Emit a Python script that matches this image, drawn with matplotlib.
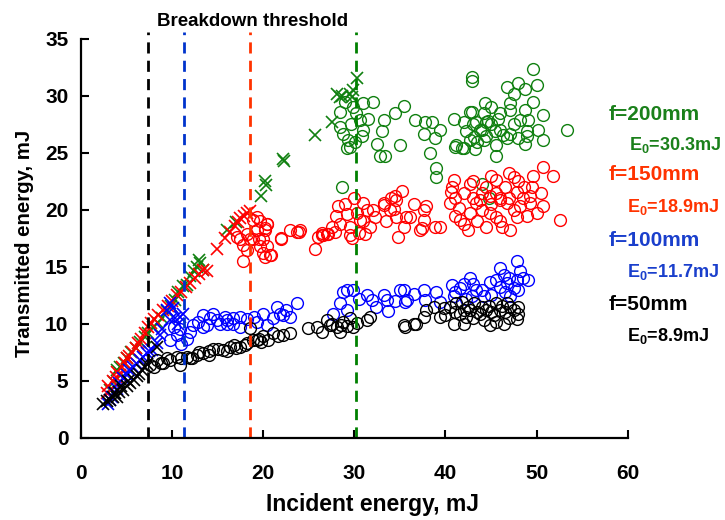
import matplotlib
matplotlib.use("Agg")
import matplotlib.pyplot as plt

plt.rcParams["font.family"] = ["Liberation Sans", "DejaVu Sans"]
plt.rcParams["font.weight"] = "bold"
plt.rcParams["mathtext.default"] = "regular"

# ── Data (incident mJ, transmitted mJ) ──────────────────────────────────
# f = 200 mm
G_CROSS_X = [3.2, 3.6, 3.9, 4.3, 4.7, 5.1, 5.5, 6.0, 6.5, 7.0, 7.4, 7.9, 8.4,
             8.9, 9.4, 9.9, 10.3, 10.7, 11.2, 11.6, 12.0, 12.4, 12.7, 12.9,
             13.1, 13.4, 16.0, 17.0, 19.8, 20.2, 20.3, 22.2, 22.3, 25.7, 27.5,
             28.1, 28.4, 28.6, 29.5, 29.9, 29.7, 30.3]
G_CROSS_Y = [4.2, 4.9, 5.9, 6.2, 6.6, 7.0, 7.5, 7.9, 8.4, 8.8, 9.2, 9.7, 10.1,
             10.5, 11.1, 11.6, 12.1, 12.8, 13.3, 13.4, 14.2, 14.6, 15.0, 15.6,
             15.3, 14.7, 18.2, 18.9, 21.2, 22.5, 22.2, 24.5, 24.3, 26.6, 27.7,
             30.2, 29.9, 30.0, 30.2, 30.5, 29.9, 31.6]
G_CIRC_X = [28.4, 28.4, 28.8, 29.3, 29.5, 29.2, 30.1, 31.0, 30.6, 32.1, 31.0,
            28.6, 32.5, 33.0, 33.2, 32.8, 33.4, 34.5, 35.4, 35.0, 36.7, 37.8,
            38.5, 37.6, 39.4, 38.9, 38.3, 39.0, 39.0, 40.9, 41.1, 42.0, 42.9,
            42.9, 42.9, 42.0, 43.1, 49.6, 46.7, 48.0, 50.0, 48.7, 47.5, 44.3,
            47.1, 49.6, 47.1, 48.7, 50.7, 42.7, 44.2, 45.8, 48.2, 49.1, 50.2,
            53.3, 43.4, 44.5, 42.3, 43.8, 45.4, 47.1, 48.9, 41.2, 42.7, 44.2,
            45.6, 46.7, 48.0, 48.7, 50.7, 43.2, 45.6, 41.8, 29.8, 30.2, 29.0,
            44.0, 44.8, 44.0, 45.0, 46.0, 44.5, 43.5, 46.0, 45.0, 47.5, 49.0,
            43.0, 44.7, 46.3, 30.8, 31.5, 29.6]
G_CIRC_Y = [28.6, 27.3, 26.7, 26.1, 25.5, 25.4, 26.0, 27.0, 27.9, 29.5, 29.4,
            22.0, 25.8, 26.9, 27.9, 24.7, 24.7, 28.5, 29.1, 25.7, 27.9, 27.7,
            27.7, 26.7, 27.0, 26.3, 25.0, 23.7, 22.9, 28.0, 25.5, 27.7, 28.6,
            31.7, 31.3, 25.4, 26.4, 32.4, 30.8, 31.1, 31.0, 30.6, 30.2, 29.4,
            29.4, 29.5, 28.8, 28.8, 28.3, 28.6, 28.5, 28.0, 27.9, 27.9, 27.0,
            27.0, 27.7, 27.7, 26.9, 27.0, 26.9, 26.7, 26.9, 25.7, 26.1, 26.1,
            25.7, 26.3, 26.3, 25.8, 26.1, 25.3, 24.7, 25.4, 29.0, 28.5, 29.5,
            22.3, 21.0, 27.0, 27.5, 27.0, 26.5, 26.0, 28.5, 29.0, 27.5, 26.5,
            27.5, 27.8, 26.6, 26.5, 28.0, 27.5]

# f = 150 mm
R_CROSS_X = [2.8, 3.0, 3.3, 3.5, 3.8, 4.0, 4.3, 4.5, 4.8, 5.0, 5.3, 5.6, 6.0,
             6.3, 6.6, 7.0, 7.3, 7.7, 8.0, 8.5, 9.0, 9.5, 10.0, 10.5, 11.0,
             11.5, 12.0, 12.5, 13.0, 13.4, 13.8, 14.9, 15.8, 16.4, 16.9, 17.2,
             17.5, 17.9, 18.2, 18.6]
R_CROSS_Y = [3.9, 4.5, 4.2, 5.0, 5.3, 5.8, 5.5, 6.2, 6.6, 7.0, 7.2, 7.5, 7.9,
             8.3, 8.7, 9.2, 9.7, 10.1, 10.4, 10.8, 11.2, 11.6, 12.0, 12.5, 12.8,
             13.2, 13.6, 14.0, 14.4, 14.7, 14.6, 16.6, 17.5, 18.1, 18.6, 18.9,
             19.3, 19.5, 19.7, 19.9]
R_CIRC_X = [17.8, 18.2, 17.5, 17.1, 18.6, 19.6, 20.4, 20.2, 19.3, 18.2, 18.9,
            20.0, 19.6, 20.4, 20.0, 20.9, 20.2, 17.8, 18.9, 22.0, 22.9, 23.7,
            24.0, 25.7, 26.0, 26.6, 27.0, 19.3, 20.4, 20.2, 19.5, 20.7, 22.0,
            23.9, 26.4, 27.1, 27.9, 28.4, 28.2, 29.2, 29.5, 29.7, 30.6, 31.2,
            31.7, 32.3, 31.4, 33.2, 33.9, 34.6, 34.8, 35.7, 37.6, 37.6, 37.4,
            34.6, 31.0, 30.3, 33.2, 34.5, 35.2, 34.3, 36.1, 37.2, 37.9, 38.9,
            40.5, 40.9, 40.7, 40.6, 39.4, 41.6, 42.5, 42.7, 42.7, 43.8, 44.5,
            44.9, 45.6, 46.0, 46.2, 47.1, 47.5, 47.8, 48.2, 49.3, 49.6, 50.0,
            50.7, 50.7, 51.8, 52.6, 46.7, 48.6, 49.3, 44.9, 43.4, 47.8, 45.6,
            41.0, 41.5, 42.0, 43.0, 43.5, 44.0, 45.0, 45.5, 46.5, 47.0, 47.5,
            48.0, 48.5, 49.0, 46.0, 44.5, 42.0, 43.0, 45.0, 49.5, 50.5, 47.0,
            46.0, 44.0, 41.0, 28.0, 29.0, 30.0, 31.0, 32.0, 29.5, 30.5, 27.5,
            26.5, 35.5, 36.5, 33.5, 34.0]
R_CIRC_Y = [15.5, 16.5, 17.4, 17.6, 17.4, 19.0, 18.8, 18.4, 18.2, 17.9, 17.4,
            17.4, 16.8, 16.8, 16.2, 16.0, 15.9, 16.9, 19.1, 17.5, 18.2, 18.1,
            18.2, 16.6, 17.6, 17.8, 17.9, 19.4, 18.8, 18.2, 17.4, 16.0, 17.4,
            18.1, 17.8, 17.9, 18.1, 18.8, 20.3, 19.6, 18.5, 17.5, 19.1, 17.9,
            18.5, 19.4, 20.0, 20.4, 20.0, 19.4, 17.6, 19.4, 20.0, 19.1, 18.4,
            20.9, 20.6, 19.7, 20.6, 21.2, 21.7, 20.1, 19.4, 18.2, 20.3, 18.5,
            20.6, 22.6, 22.0, 21.6, 18.5, 19.1, 18.2, 22.3, 19.7, 20.9, 22.0,
            19.7, 22.6, 20.9, 18.5, 18.2, 22.9, 21.6, 20.3, 21.2, 23.0, 19.7,
            23.8, 20.3, 23.0, 19.1, 20.6, 22.0, 20.6, 21.2, 20.6, 19.4, 19.4,
            21.0, 20.2, 21.5, 21.0, 19.0, 20.0, 20.5, 21.5, 22.0, 21.0, 20.0,
            22.5, 21.0, 19.5, 19.0, 18.5, 18.8, 22.5, 23.0, 22.0, 21.5, 23.2,
            21.0, 21.5, 19.5, 19.5, 20.5, 21.0, 19.0, 20.0, 17.8, 18.0, 18.5,
            18.0, 18.5, 20.5, 19.0, 21.0]

# f = 100 mm
B_CROSS_X = [3.0, 3.2, 3.4, 3.6, 3.9, 4.2, 4.6, 5.0, 5.3, 5.7, 6.1, 6.5, 6.8,
             7.2, 7.5, 7.8, 8.3, 8.7, 8.9, 9.4, 9.8, 9.8, 10.1, 10.3, 10.9,
             11.2, 10.6]
B_CROSS_Y = [3.0, 3.3, 3.6, 3.9, 4.3, 4.8, 5.2, 5.5, 5.9, 6.2, 6.5, 6.8, 7.1,
             7.4, 7.6, 7.7, 8.3, 9.0, 9.5, 11.2, 10.3, 11.8, 11.4, 10.5, 10.6,
             10.9, 10.0]
B_CIRC_X = [9.8, 11.6, 12.0, 12.3, 13.4, 14.2, 15.3, 16.0, 16.7, 17.5, 13.4,
            14.5, 10.9, 10.5, 13.8, 14.9, 16.0, 16.7, 17.5, 19.3, 20.0, 20.4,
            21.5, 22.2, 22.9, 23.7, 21.1, 28.8, 29.9, 28.4, 29.2, 27.7, 29.2,
            31.4, 31.9, 32.4, 33.2, 33.6, 33.7, 35.0, 35.6, 37.6, 37.8, 47.8,
            46.0, 48.2, 49.1, 42.7, 40.7, 39.0, 35.8, 35.4, 41.6, 43.4, 44.9,
            45.6, 46.7, 47.5, 42.3, 44.2, 39.4, 40.9, 47.1, 47.8, 46.4, 42.9,
            44.0, 45.0, 46.0, 47.0, 48.0, 43.0, 41.0, 42.0, 48.5, 46.5, 12.8,
            15.8, 18.2, 21.8, 19.0, 22.5, 30.5, 34.5, 36.5, 11.0, 10.2]
B_CIRC_Y = [8.6, 8.7, 9.3, 9.9, 9.7, 10.5, 10.0, 10.3, 10.0, 10.6, 10.8,
            10.9, 9.5, 9.0, 9.9, 10.3, 10.0, 10.5, 9.7, 10.2, 10.9, 9.9,
            11.5, 10.8, 10.6, 11.8, 10.5, 12.8, 13.0, 11.8, 11.2, 10.9, 13.0,
            12.5, 12.1, 11.5, 12.5, 12.1, 11.1, 13.0, 11.9, 13.0, 12.1, 15.5,
            14.9, 14.6, 13.8, 14.0, 13.4, 12.8, 12.1, 13.0, 13.1, 13.0, 13.7,
            13.8, 13.6, 13.1, 12.2, 12.4, 11.9, 12.4, 12.4, 13.8, 14.3, 12.4,
            13.0, 12.5, 13.2, 14.0, 13.0, 13.5, 12.8, 13.5, 14.0, 12.8, 10.2,
            10.6, 10.4, 10.9, 10.6, 11.2, 12.2, 12.0, 12.6, 8.2, 9.7]

# f = 50 mm
K_CROSS_X = [2.45, 2.8, 3.2, 3.5, 3.9, 4.2, 4.6, 5.0, 5.4, 5.8, 6.1, 6.4, 6.7,
             7.0, 7.2, 8.3, 3.7, 4.4, 5.2]
K_CROSS_Y = [3.0, 3.2, 3.3, 3.6, 3.6, 4.0, 4.2, 4.5, 4.8, 5.1, 5.4, 5.6, 5.9,
             6.2, 6.5, 8.0, 3.9, 4.5, 5.0]
K_CIRC_X = [7.6, 8.3, 9.4, 10.5, 10.9, 11.6, 12.7, 13.4, 14.5, 15.6, 16.4,
            17.5, 18.2, 18.9, 19.5, 18.6, 19.3, 20.0, 21.1, 22.2, 22.9, 24.9,
            25.9, 27.0, 27.3, 28.1, 28.8, 29.5, 29.9, 28.4, 31.4, 31.7, 35.4,
            36.5, 37.6, 37.9, 26.4, 35.6, 36.8, 38.7, 39.4, 40.5, 41.2, 41.6,
            42.0, 42.7, 43.1, 43.8, 44.2, 44.5, 45.3, 45.6, 46.0, 46.4, 46.7,
            47.5, 48.0, 40.9, 39.8, 42.3, 44.9, 47.1, 8.8, 12.0, 14.0, 16.8,
            41.0, 42.5, 43.5, 44.0, 45.0, 46.5, 47.0, 48.0, 42.0, 43.0, 45.5,
            40.0, 44.8, 46.2, 47.8, 41.8, 9.0, 9.8, 11.0, 12.2, 13.0, 14.0,
            15.0, 16.0, 17.0, 18.0, 19.8, 20.5, 21.6, 27.6, 28.5, 29.2, 30.3,
            8.0]
K_CIRC_Y = [6.4, 6.8, 7.0, 7.1, 6.4, 7.1, 7.3, 7.4, 7.8, 7.7, 8.0,
            8.0, 8.3, 8.6, 8.7, 9.6, 8.6, 8.9, 9.2, 9.0, 9.2, 9.6,
            9.7, 10.3, 9.9, 9.7, 10.2, 10.5, 9.7, 9.3, 10.3, 10.6, 9.9,
            10.0, 10.6, 11.2, 9.3, 9.7, 10.0, 11.5, 10.6, 11.5, 11.8, 10.9,
            10.0, 11.2, 11.8, 10.9, 10.3, 11.2, 10.8, 11.8, 11.2, 10.0, 11.8,
            11.2, 10.9, 10.0, 11.4, 10.6, 9.9, 11.5, 6.6, 7.0, 7.6, 8.1,
            11.0, 11.5, 11.0, 11.5, 11.0, 11.0, 10.5, 11.5, 11.2, 10.5, 10.2,
            10.8, 11.6, 11.6, 10.4, 11.9, 6.6, 6.8, 7.0, 7.0, 7.5, 7.3,
            7.8, 7.6, 7.9, 8.1, 8.4, 8.6, 8.9, 10.0, 9.9, 9.8, 10.1,
            6.2]

# Breakdown thresholds as drawn (x positions of the dashed lines)
THRESH_X = [7.3, 11.35, 18.6, 30.2]
THRESH_COLORS = ["black", "#0033cc", "#ff3300", "#008000"]

FOCAL_LABELS = ["f=200mm", "f=150mm", "f=100mm", "f=50mm"]
E0_LABELS = ["E$_0$=30.3mJ", "E$_0$=18.9mJ", "E$_0$=11.7mJ", "E$_0$=8.9mJ"]
LABEL_COLORS = ["#1a801a", "#ff3300", "#1a3fcc", "black"]

W, H = 725, 520
fig = plt.figure(figsize=(W / 100, H / 100), dpi=100)
ax = fig.add_axes([81 / W, (H - 437.7) / H, 546.7 / W, 398.7 / H])

series = [
    (G_CROSS_X, G_CROSS_Y, G_CIRC_X, G_CIRC_Y, "#108010"),
    (R_CROSS_X, R_CROSS_Y, R_CIRC_X, R_CIRC_Y, "#ff0000"),
    (B_CROSS_X, B_CROSS_Y, B_CIRC_X, B_CIRC_Y, "#0000ff"),
    (K_CROSS_X, K_CROSS_Y, K_CIRC_X, K_CIRC_Y, "black"),
]
for cx, cy, ox, oy, col in series:
    ax.plot(ox, oy, "o", ls="none", ms=8.5, mfc="none", mec=col, mew=1.0,
            clip_on=False)
    ax.plot(cx, cy, "x", ls="none", ms=8.5, color=col, mew=1.2, clip_on=False)

for x, col in zip(THRESH_X, THRESH_COLORS):
    ax.axvline(x, ymin=0, ymax=35.6 / 35, color=col, lw=2, ls=(0, (4, 2.6)),
               clip_on=False)

ax.set_xlim(0, 60)
ax.set_ylim(0, 35)
ax.set_xticks(range(0, 61, 10))
ax.set_yticks(range(0, 36, 5))
for s in ["top", "right"]:
    ax.spines[s].set_visible(False)
for s in ["left", "bottom"]:
    ax.spines[s].set_linewidth(1.6)
ax.tick_params(direction="in", length=6, width=1.5, labelsize=15)
ax.tick_params(axis="x", pad=19)
ax.tick_params(axis="y", pad=9)

fig.text(372 / W, 1 - 505 / H, "Incident energy, mJ", ha="center",
         va="center", fontsize=16.5, fontweight="bold")
fig.text(25 / W, 1 - 243 / H, "Transmitted energy, mJ", ha="center",
         va="center", rotation=90, fontsize=14.7, fontweight="bold")
fig.text(253 / W, 1 - 22 / H, "Breakdown threshold", ha="center",
         va="center", fontsize=13.5, fontweight="bold")

f_y = [115, 175, 240, 305]
e_y = [145, 207, 272, 336]
e_x = [629, 627, 627, 627]
for lab, e0, col, fy, ey, ex in zip(FOCAL_LABELS, E0_LABELS, LABEL_COLORS,
                                    f_y, e_y, e_x):
    fig.text(609 / W, 1 - fy / H, lab, color=col, fontsize=15,
             fontweight="bold", va="center", ha="left")
    fig.text(ex / W, 1 - ey / H, e0, color=col, fontsize=13,
             fontweight="bold", va="center", ha="left")

fig.savefig("out.png", dpi=100)
